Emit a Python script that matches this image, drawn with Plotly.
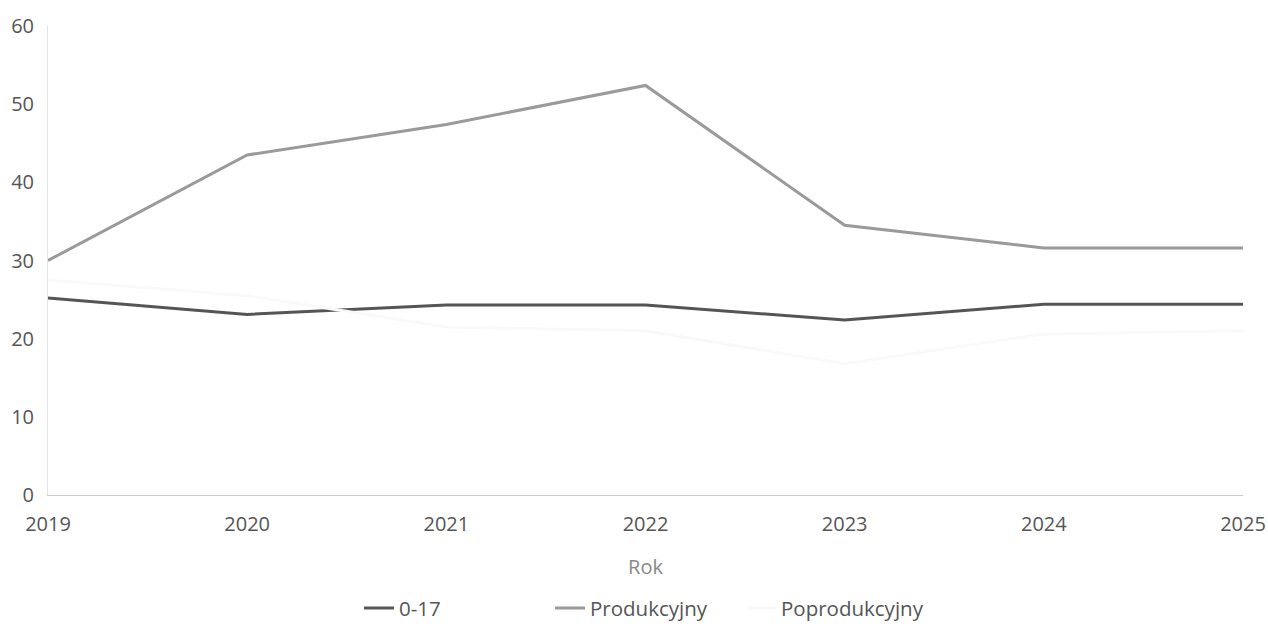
import plotly.graph_objects as go

years = [2019, 2020, 2021, 2022, 2023, 2024, 2025]
series_names = ["0-17", "Produkcyjny", "Poprodukcyjny"]
val_0_17 = [25.2, 23.1, 24.3, 24.3, 22.4, 24.4, 24.4]
val_prod = [30.0, 43.5, 47.4, 52.4, 34.5, 31.6, 31.6]
val_poprod = [27.5, 25.5, 21.5, 21.0, 16.8, 20.6, 21.0]
colors = ["#555555", "#9a9a9a", "#f9f9f9"]

fig = go.Figure()
for name, vals, col in zip(series_names, [val_0_17, val_prod, val_poprod], colors):
    fig.add_trace(go.Scatter(x=years, y=vals, mode="lines", name=name,
                             line=dict(color=col, width=3)))

fig.update_layout(
    width=1268, height=627,
    paper_bgcolor="white", plot_bgcolor="white",
    margin=dict(l=48, r=25, t=26, b=132, autoexpand=False),
    font=dict(family="Open Sans", size=20, color="#555555"),
    showlegend=True,
    legend=dict(orientation="h", x=0.5, xanchor="center",
                yref="container", y=0.030, yanchor="middle",
                font=dict(size=20.5, color="#555555"),
                entrywidth=146, entrywidthmode="pixels"),
)
fig.update_xaxes(
    range=[2019, 2025], tickmode="array", tickvals=years,
    ticktext=[str(y) for y in years],
    showgrid=False, zeroline=False, automargin=False,
    showline=True, linecolor="#cccccc", linewidth=1,
    ticks="", ticklabelstandoff=11, ticklabeloverflow="allow",
    title=dict(text="Rok", font=dict(size=20, color="#888888"), standoff=23),
    tickfont=dict(size=20, color="#555555"),
)
fig.update_yaxes(
    range=[0, 60], tickvals=[0, 10, 20, 30, 40, 50, 60],
    showgrid=False, zeroline=False, automargin=False,
    showline=True, linecolor="#e4e4e4", linewidth=1,
    ticks="", ticklabelstandoff=9,
    tickfont=dict(size=20, color="#555555"),
)

fig.write_html("out.html", config={"displayModeBar": False},
               post_script="document.body.style.margin='0';")
